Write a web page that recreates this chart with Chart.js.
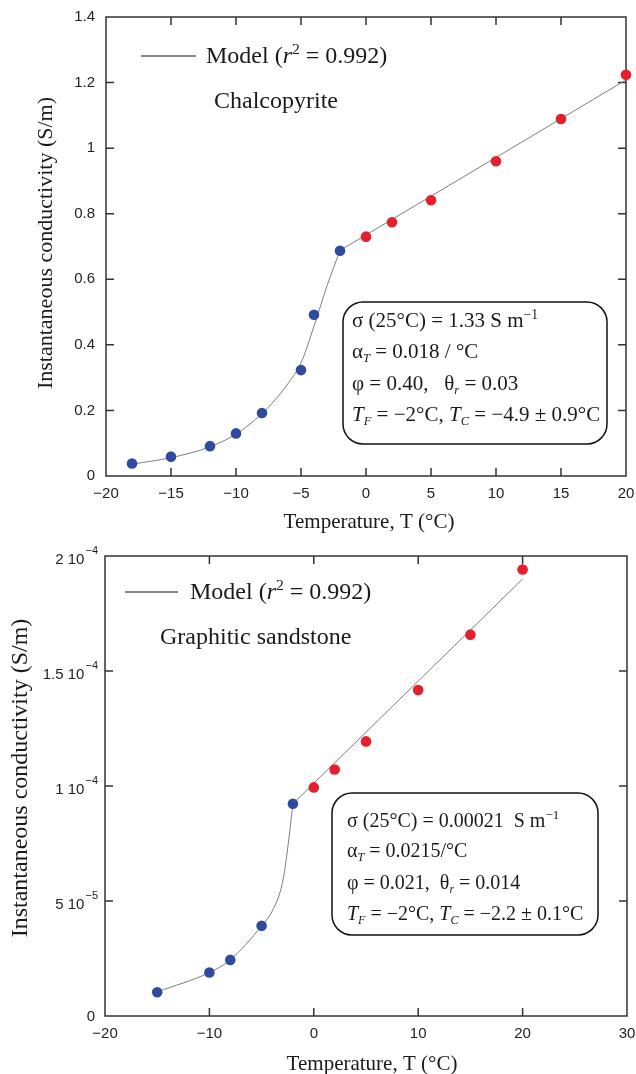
<!DOCTYPE html>
<html>
<head>
<meta charset="utf-8">
<script src="https://cdn.jsdelivr.net/npm/chart.js@4.4.1/dist/chart.umd.min.js"></script>
<style>
  body { margin: 0; background: #fff; }
  canvas { display: block; }
</style>
</head>
<body>
<canvas id="top-chart" width="636" height="535"></canvas>
<canvas id="bottom-chart" width="636" height="539"></canvas>
<script>
// ---- Chalcopyrite (top) ----
const topFrozenT = [-18, -15, -12, -10, -8, -5, -4, -2];
const topFrozenS = [0.038, 0.059, 0.091, 0.130, 0.192, 0.323, 0.492, 0.687];
const topThawedT = [0, 2, 5, 10, 15, 20];
const topThawedS = [0.730, 0.774, 0.841, 0.960, 1.089, 1.224];
const topModelT = [-18, -15, -12, -10, -8, -7, -6, -5, -4, -3, -2.5, -2];
const topModelS = [0.036, 0.056, 0.089, 0.128, 0.190, 0.232, 0.282, 0.345, 0.457, 0.580, 0.635, 0.688];
const topLineT = [-2, 20];
const topLineS = [0.688, 1.208];
const topXTicks = [-20, -15, -10, -5, 0, 5, 10, 15, 20];
const topYTicks = ['0', '0.2', '0.4', '0.6', '0.8', '1', '1.2', '1.4'];

// ---- Graphitic sandstone (bottom) ----
const botFrozenT = [-15, -10, -8, -5, -2];
const botFrozenS = [1.03e-5, 1.89e-5, 2.44e-5, 3.92e-5, 9.23e-5];
const botThawedT = [0, 2, 5, 10, 15, 20];
const botThawedS = [9.94e-5, 1.072e-4, 1.194e-4, 1.417e-4, 1.658e-4, 1.941e-4];
const botModelT = [-15, -10, -8, -5, -4, -3, -2.5, -2];
const botModelS = [1.05e-5, 1.89e-5, 2.44e-5, 3.92e-5, 4.55e-5, 5.8e-5, 7.3e-5, 9.23e-5];
const botLineT = [-2, 20];
const botLineS = [9.23e-5, 1.90e-4];
const botXTicks = [-20, -10, 0, 10, 20, 30];
const botYTickValues = [0, 5e-5, 1e-4, 1.5e-4, 2e-4];
const botYTickMain = ['0', '5 10', '1 10', '1.5 10', '2 10'];
const botYTickExp = ['', '\u22125', '\u22124', '\u22124', '\u22124'];

// annotation texts: [text, style]
const topBoxLines = [
  [['\u03c3 (25\u00b0C) = 1.33 S m', ''], ['\u22121', 'sup']],
  [['\u03b1', ''], ['T', 'isub'], [' = 0.018 / \u00b0C', '']],
  [['\u03c6 = 0.40,   \u03b8', ''], ['r', 'isub'], [' = 0.03', '']],
  [['T', 'i'], ['F', 'isub'], [' = \u22122\u00b0C, ', ''], ['T', 'i'], ['C', 'isub'], [' = \u22124.9 \u00b1 0.9\u00b0C', '']]
];
const botBoxLines = [
  [['\u03c3 (25\u00b0C) = 0.00021  S m', ''], ['\u22121', 'sup']],
  [['\u03b1', ''], ['T', 'isub'], [' = 0.0215/\u00b0C', '']],
  [['\u03c6 = 0.021,  \u03b8', ''], ['r', 'isub'], [' = 0.014', '']],
  [['T', 'i'], ['F', 'isub'], [' = \u22122\u00b0C, ', ''], ['T', 'i'], ['C', 'isub'], [' = \u22122.2 \u00b1 0.1\u00b0C', '']]
];
const legendParts = [['Model (', ''], ['r', 'i'], ['2', 'sup'], [' = 0.992)', '']];

const BLUE = '#2f4b9f';
const RED = '#e3202b';
const LINE = '#7d7d7d';
const SERIF = "'Liberation Serif', 'Times New Roman', serif";
const SANS = "'Liberation Sans', Arial, sans-serif";

Chart.defaults.font.family = SANS;

function pts(xs, ys) {
  return xs.map((x, i) => ({ x: x, y: ys[i] }));
}

function minus(v) {
  return v < 0 ? '\u2212' + Math.abs(v) : String(v);
}

function drawRich(ctx, x, y, parts, size) {
  let cx = x;
  parts.forEach(([t, s]) => {
    let sz = size, dy = 0, it = '';
    if (s === 'i') it = 'italic ';
    if (s === 'sup') { sz = size * 0.65; dy = -size * 0.38; }
    if (s === 'isub') { it = 'italic '; sz = size * 0.6; dy = size * 0.18; }
    ctx.font = it + sz + 'px ' + SERIF;
    ctx.fillText(t, cx, y + dy);
    cx += ctx.measureText(t).width;
  });
}

function roundBox(ctx, x1, y1, x2, y2, r) {
  ctx.beginPath();
  ctx.roundRect(x1, y1, x2 - x1, y2 - y1, r);
  ctx.stroke();
}

function noPad(s) {
  s.paddingLeft = 0; s.paddingRight = 0; s.paddingTop = 0; s.paddingBottom = 0;
}

const decor = {
  id: 'decor',
  beforeDatasetsDraw(chart, args, o) {
    const { ctx, chartArea: a, scales: { x, y } } = chart;
    ctx.save();
    ctx.strokeStyle = '#333';
    ctx.lineWidth = 1.5;
    ctx.strokeRect(a.left, a.top, a.right - a.left, a.bottom - a.top);
    ctx.beginPath();
    x.ticks.forEach(t => {
      const px = x.getPixelForValue(t.value);
      if (px < a.left + 2 || px > a.right - 2) return;
      ctx.moveTo(px, a.bottom); ctx.lineTo(px, a.bottom - 8);
      ctx.moveTo(px, a.top); ctx.lineTo(px, a.top + 8);
    });
    y.ticks.forEach(t => {
      const py = y.getPixelForValue(t.value);
      if (py < a.top + 2 || py > a.bottom - 2) return;
      ctx.moveTo(a.left, py); ctx.lineTo(a.left + 8, py);
      ctx.moveTo(a.right, py); ctx.lineTo(a.right - 8, py);
    });
    ctx.stroke();
    ctx.restore();
  },
  afterDraw(chart, args, o) {
    const { ctx, scales: { y } } = chart;
    ctx.save();
    ctx.fillStyle = '#1a1a1a';
    ctx.strokeStyle = '#111';
    ctx.textBaseline = 'alphabetic';
    ctx.textAlign = 'left';
    // legend
    ctx.lineWidth = 1;
    ctx.beginPath();
    ctx.moveTo(o.legend[0], o.legend[2]);
    ctx.lineTo(o.legend[1], o.legend[2]);
    ctx.stroke();
    drawRich(ctx, o.legend[3], o.legend[4], legendParts, 24);
    ctx.font = '24px ' + SERIF;
    ctx.fillText(o.name, o.namePos[0], o.namePos[1]);
    // parameter box
    ctx.lineWidth = 1.5;
    roundBox(ctx, o.box[0], o.box[1], o.box[2], o.box[3], 20);
    o.lines.forEach((ln, i) => drawRich(ctx, o.textX, o.baselines[i], ln, o.boxFont));
    // axis titles
    ctx.font = '21px ' + SERIF;
    ctx.textAlign = 'center';
    ctx.fillText('Temperature, T (\u00b0C)', o.xTitle[0], o.xTitle[1]);
    ctx.save();
    ctx.translate(o.yTitle[0], o.yTitle[1]);
    ctx.rotate(-Math.PI / 2);
    ctx.textBaseline = 'middle';
    ctx.font = o.yTitle[2] + 'px ' + SERIF;
    ctx.fillText('Instantaneous conductivity (S/m)', 0, 0);
    ctx.restore();
    // exponent tick labels
    if (o.expTicks) {
      ctx.fillStyle = '#222';
      ctx.textAlign = 'right';
      botYTickValues.forEach((v, i) => {
        const py = y.getPixelForValue(v);
        const right = 98;
        const hasExp = botYTickExp[i] !== '';
        ctx.font = '11px ' + SANS;
        const ew = hasExp ? ctx.measureText(botYTickExp[i]).width : 0;
        if (hasExp) {
          ctx.textBaseline = 'middle';
          ctx.fillText(botYTickExp[i], right, py - 5);
        }
        ctx.font = '15px ' + SANS;
        ctx.textBaseline = 'middle';
        ctx.fillText(botYTickMain[i], right - ew - (hasExp ? 1 : 0) + (hasExp ? 0 : -3), py + (hasExp ? 4 : 1));
      });
    }
    ctx.restore();
  }
};

function makeChart(id, d) {
  return new Chart(document.getElementById(id), {
    type: 'scatter',
    data: {
      datasets: [
        { data: pts(d.thawT, d.thawS), backgroundColor: RED, pointRadius: 5.3, pointBorderWidth: 0, showLine: false, clip: false },
        { data: pts(d.frozT, d.frozS), backgroundColor: BLUE, pointRadius: 5.3, pointBorderWidth: 0, showLine: false, clip: false },
        { data: pts(d.modT, d.modS), borderColor: LINE, borderWidth: 1, pointRadius: 0, showLine: true, cubicInterpolationMode: 'monotone' },
        { data: pts(d.linT, d.linS), borderColor: LINE, borderWidth: 1, pointRadius: 0, showLine: true, tension: 0 }
      ]
    },
    options: {
      responsive: false,
      animation: false,
      events: [],
      layout: { padding: d.padding },
      scales: {
        x: {
          type: 'linear', min: d.xMin, max: d.xMax,
          afterBuildTicks: s => { s.ticks = d.xTicks.map(v => ({ value: v })); },
          afterFit: s => { s.height = d.xHeight; noPad(s); },
          grid: { display: false, drawTicks: false },
          border: { display: false },
          ticks: { padding: 9, color: '#222', font: { size: 15 }, maxRotation: 0, autoSkip: false, callback: v => minus(v) }
        },
        y: {
          type: 'linear', min: d.yMin, max: d.yMax,
          afterBuildTicks: d.yBuild,
          afterFit: s => { s.width = d.yWidth; noPad(s); },
          grid: { display: false, drawTicks: false },
          border: { display: false },
          ticks: { display: d.yTicksShown, padding: 11, color: '#222', font: { size: 15 }, autoSkip: false, callback: d.yLabel }
        }
      },
      plugins: {
        legend: { display: false },
        tooltip: { enabled: false },
        decor: d.decor
      }
    },
    plugins: [decor]
  });
}

makeChart('top-chart', {
  thawT: topThawedT, thawS: topThawedS, frozT: topFrozenT, frozS: topFrozenS,
  modT: topModelT, modS: topModelS, linT: topLineT, linS: topLineS,
  xMin: -20, xMax: 20, yMin: 0, yMax: 1.4, xTicks: topXTicks,
  yBuild: s => { s.ticks = topYTicks.map(v => ({ value: parseFloat(v) })); },
  yLabel: (v, i) => topYTicks[i],
  yTicksShown: true,
  padding: { top: 17, right: 10, left: 0, bottom: 0 },
  xHeight: 59, yWidth: 106,
  decor: {
    legend: [141, 196, 56, 206, 63],
    name: 'Chalcopyrite', namePos: [214, 108],
    box: [343, 302, 607, 444], textX: 352, baselines: [327, 358, 390, 421], boxFont: 21, lines: topBoxLines,
    xTitle: [369, 528], yTitle: [46, 243, 22], expTicks: false
  }
});

makeChart('bottom-chart', {
  thawT: botThawedT, thawS: botThawedS, frozT: botFrozenT, frozS: botFrozenS,
  modT: botModelT, modS: botModelS, linT: botLineT, linS: botLineS,
  xMin: -20, xMax: 30, yMin: 0, yMax: 2e-4, xTicks: botXTicks,
  yBuild: s => { s.ticks = botYTickValues.map(v => ({ value: v })); },
  yLabel: (v, i) => botYTickMain[i],
  yTicksShown: false,
  padding: { top: 21, right: 9, left: 0, bottom: 0 },
  xHeight: 58, yWidth: 105,
  decor: {
    legend: [125, 178, 592 - 535, 190, 599 - 535],
    name: 'Graphitic sandstone', namePos: [160, 644 - 535],
    box: [332, 793 - 535, 598, 935 - 535], textX: 347, baselines: [827 - 535, 857 - 535, 889 - 535, 920 - 535], boxFont: 20, lines: botBoxLines,
    xTitle: [372, 1070 - 535], yTitle: [21, 778 - 535, 24], expTicks: true
  }
});
</script>
</body>
</html>
